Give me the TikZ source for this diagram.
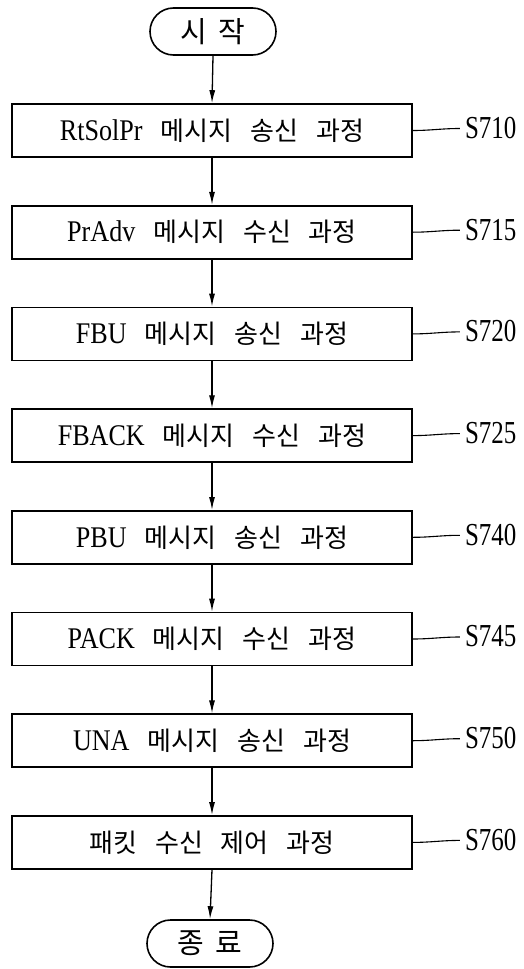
\documentclass[tikz,border=0pt]{standalone}
\usepackage{graphicx}
\usepackage{fontspec}
\setmainfont{Liberation Serif}
\newfontfamily\kr{Noto Sans CJK KR}
\usetikzlibrary{arrows.meta}

% spacing between words inside the boxes
\newcommand\wgap{\hspace{18pt}}
% Latin message names inside the boxes, set slightly condensed
\newcommand\latn[1]{\scalebox{0.87}[1]{\rmfamily\fontsize{30}{32}\selectfont #1}}
% step numbers beside the boxes
\newcommand\stepno[1]{\scalebox{0.78}[1]{#1}}

\tikzset{
  stepbox/.style={draw, line width=1.6pt, minimum width=400pt, minimum height=53pt,
    inner sep=0pt, font=\kr\fontsize{26}{28}\selectfont},
  term/.style={draw, line width=1.6pt, rounded corners=23.5pt, minimum width=126pt,
    minimum height=47pt, inner sep=0pt, font=\kr\fontsize{29}{30}\selectfont},
  flow/.style={line width=1.3pt, -{Latex[length=13pt,width=6pt]}},
  lead/.style={line width=1.1pt},
  numlabel/.style={anchor=west, inner sep=0pt, font=\fontsize{32}{34}\selectfont}
}

\begin{document}
\begin{tikzpicture}[x=1pt,y=-1pt]
  \useasboundingbox (0,0) rectangle (524,969);

  % terminals
  \node[term] (start) at (213,31.5) {시\hspace{12pt}작};
  \node[term] (stop)  at (210,943.5) {종\hspace{12pt}료};

  % process steps
  \node[stepbox] (b0) at (212,130.5) {\latn{RtSolPr}\wgap 메시지\wgap 송신\wgap 과정};
  \node[stepbox] (b1) at (212,232.2) {\latn{PrAdv}\wgap 메시지\wgap 수신\wgap 과정};
  \node[stepbox] (b2) at (212,333.9) {\latn{FBU}\wgap 메시지\wgap 송신\wgap 과정};
  \node[stepbox] (b3) at (212,435.6) {\latn{FBACK}\wgap 메시지\wgap 수신\wgap 과정};
  \node[stepbox] (b4) at (212,537.3) {\latn{PBU}\wgap 메시지\wgap 송신\wgap 과정};
  \node[stepbox] (b5) at (212,639.0) {\latn{PACK}\wgap 메시지\wgap 수신\wgap 과정};
  \node[stepbox] (b6) at (212,740.7) {\latn{UNA}\wgap 메시지\wgap 송신\wgap 과정};
  \node[stepbox] (b7) at (212,842.4) {패킷\wgap 수신\wgap 제어\wgap 과정};

  % flow arrows
  \draw[flow] (start.south) -- (b0.north);
  \draw[flow] (b0.south) -- (b1.north);
  \draw[flow] (b1.south) -- (b2.north);
  \draw[flow] (b2.south) -- (b3.north);
  \draw[flow] (b3.south) -- (b4.north);
  \draw[flow] (b4.south) -- (b5.north);
  \draw[flow] (b5.south) -- (b6.north);
  \draw[flow] (b6.south) -- (b7.north);
  \draw[flow] (b7.south) -- (stop.north);

  % step numbers with leader lines
  \foreach \n/\num in {0/S710,1/S715,2/S720,3/S725,4/S740,5/S745,6/S750,7/S760}{
    \coordinate (l\n) at ([xshift=47pt,yshift=2pt]b\n.east);
    \draw[lead] (b\n.east) to[out=0,in=180] (l\n);
    \node[numlabel] (n\n) at ([xshift=5pt,yshift=0.5pt]l\n) {\stepno{\num}};
  }
\end{tikzpicture}
\end{document}
